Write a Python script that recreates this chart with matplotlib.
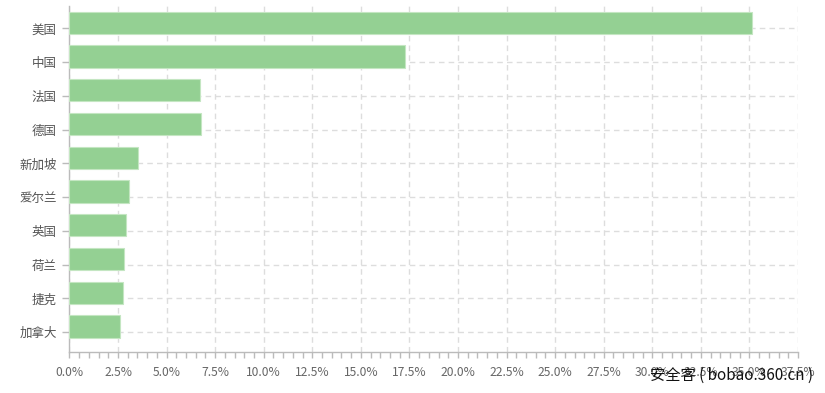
import matplotlib
matplotlib.use("Agg")
import matplotlib.pyplot as plt
from matplotlib.ticker import MultipleLocator, FuncFormatter

plt.rcParams['font.family'] = ['Noto Sans CJK SC', 'DejaVu Sans']

countries = ['美国', '中国', '法国', '德国', '新加坡', '爱尔兰', '英国', '荷兰', '捷克', '加拿大']
shares = [35.15, 17.27, 6.74, 6.76, 3.52, 3.04, 2.93, 2.80, 2.74, 2.60]

fig = plt.figure(figsize=(8.25, 3.93), dpi=100)
ax = fig.add_axes([0.0842, 0.105, 0.883, 0.8797])

pos = list(range(len(countries)))
# bars sit a bit above their category tick, like the original
ax.barh([p - 0.167 for p in pos], shares, height=0.66,
        color='#94d093', edgecolor='#c4e6c2', linewidth=0.8, zorder=3)

ax.set_xlim(0, 37.5)
ax.set_ylim(9.58, -0.664)
ax.set_yticks(pos)
ax.set_yticklabels(countries)

ax.xaxis.set_major_locator(MultipleLocator(2.5))
ax.xaxis.set_minor_locator(MultipleLocator(0.5))
ax.xaxis.set_major_formatter(FuncFormatter(lambda v, _: f'{v:.1f}%'))

ax.grid(True, axis='both', which='major', linestyle=(0, (4, 3)),
        color='#dddddd', linewidth=1.0, zorder=0)

for s in ['top', 'right']:
    ax.spines[s].set_visible(False)
for s in ['left', 'bottom']:
    ax.spines[s].set_color('#bbbbbb')
    ax.spines[s].set_linewidth(1.0)

ax.tick_params(axis='x', which='both', length=4, width=1, color='#bbbbbb',
               labelsize=8.7, labelcolor='#666666', pad=6)
ax.tick_params(axis='y', length=5, width=1, color='#bbbbbb',
               labelsize=9, labelcolor='#555555', pad=4)

fig.text(0.985, 0.045, '安全客 ( bobao.360.cn )', ha='right', va='center',
         fontsize=11, color='#111111')

fig.savefig('out.png', dpi=100)
